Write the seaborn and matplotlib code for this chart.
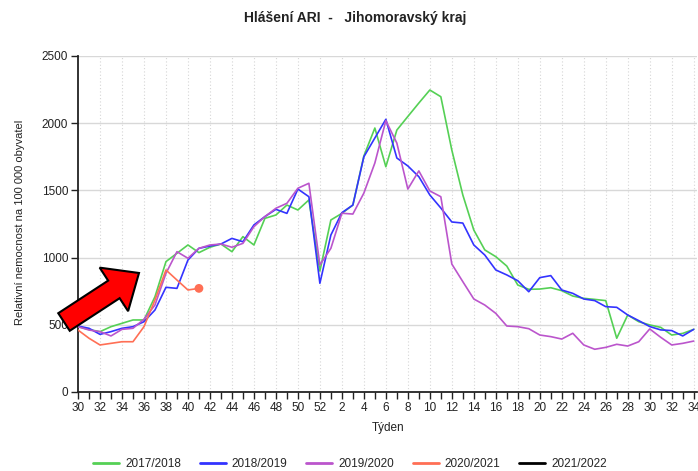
import numpy as np
import pandas as pd
import matplotlib
matplotlib.use("Agg")
import matplotlib.pyplot as plt
from matplotlib.patches import FancyArrow
from matplotlib.lines import Line2D
import seaborn as sns

sns.set_style("white")
plt.rcParams['font.family'] = ['Liberation Sans', 'DejaVu Sans']

weeks = list(range(30, 53)) + list(range(1, 35))

s2017 = [486, 465, 449, 486, 511, 536, 536, 709, 970, 1032, 1094, 1037, 1077, 1101, 1044,
         1156, 1094, 1292, 1317, 1391, 1354, 1429, 900, 1280, 1329, 1391, 1756, 1964, 1676,
         1949, 2050, 2150, 2247, 2197, 1800, 1466, 1205, 1057, 1007, 937, 796, 764, 766,
         776, 754, 714, 697, 689, 680, 400, 573, 523, 499, 481, 424, 436, 466]
s2018 = [491, 474, 429, 449, 474, 486, 523, 610, 779, 771, 982, 1069, 1086, 1101, 1143,
         1118, 1243, 1305, 1359, 1329, 1510, 1453, 809, 1168, 1334, 1391, 1750, 1890, 2029,
         1741, 1682, 1602, 1466, 1369, 1265, 1257, 1094, 1019, 908, 871, 828, 746, 851,
         866, 759, 734, 692, 680, 635, 630, 573, 531, 487, 462, 457, 417, 466]
s2019 = [486, 461, 449, 417, 466, 474, 541, 647, 883, 1044, 995, 1069, 1094, 1101, 1077,
         1106, 1230, 1305, 1367, 1404, 1516, 1553, 945, 1069, 1330, 1324, 1480, 1704, 2019,
         1852, 1510, 1645, 1496, 1453, 952, 821, 692, 647, 585, 491, 486, 471, 424,
         412, 394, 437, 350, 318, 332, 355, 342, 374, 469, 407, 350, 362, 379]
s2020 = [461, 400, 350, 362, 374, 374, 486, 685, 908, 833, 759, 771]
s2021 = []

seasons = ["2017/2018", "2018/2019", "2019/2020", "2020/2021", "2021/2022"]
colors = ["#55d055", "#3333ff", "#bb55cc", "#ff6f55", "#000000"]
series = [s2017, s2018, s2019, s2020, s2021]

rows = []
for name, vals in zip(seasons, series):
    for i, v in enumerate(vals):
        rows.append({"pos": i, "week": weeks[i], "season": name, "value": v})
df = pd.DataFrame(rows)
palette = dict(zip(seasons, colors))

fig = plt.figure(figsize=(6.98, 4.71), dpi=100)
ax = fig.add_axes([78/698, 1-392/471, (697-78)/698, (392-56)/471])

# grid
for y in range(500, 2501, 500):
    ax.axhline(y, color="#d8d8d8", lw=1.0, zorder=0)
for x in range(2, 57, 2):
    ax.axvline(x, color="#d6d6d6", lw=0.8, ls=(0, (1, 2)), zorder=0)

present = [s for s, v in zip(seasons, series) if len(v)]
sns.lineplot(data=df, x="pos", y="value", hue="season", hue_order=present,
             palette=palette, lw=1.2, ax=ax, legend=False, zorder=3)
last = df[df.season == "2020/2021"].tail(1)
sns.scatterplot(data=last, x="pos", y="value", color=palette["2020/2021"], s=40,
                edgecolor="none", ax=ax, legend=False, zorder=4)

ax.set_xlim(0, 56.3)
ax.set_ylim(0, 2500)
ax.set_xticks(range(len(weeks)))
ax.set_xticklabels([str(w) if i % 2 == 0 else "" for i, w in enumerate(weeks)])
ax.set_yticks(range(0, 2501, 500))
ax.tick_params(axis="both", direction="out", length=5, width=1, color="#222222",
               labelsize=8.5, labelcolor="#222222", bottom=True, left=True, pad=2)
for s in ["top", "right"]:
    ax.spines[s].set_visible(False)
for s in ["left", "bottom"]:
    ax.spines[s].set_color("#222222")
    ax.spines[s].set_linewidth(1.3)
ax.set_xlabel("")
ax.set_ylabel("")

fig.text(355/698, 1-18/471, "Hlášení ARI  -   Jihomoravský kraj", ha="center", va="center",
         fontsize=10, fontweight="bold", color="#222222")
fig.text(20/698, 1-222/471, "Relativní nemocnost na 100 000 obyvatel", rotation=90,
         ha="center", va="center", fontsize=8, color="#222222")
fig.text(388/698, 1-428/471, "Týden", ha="center", va="center", fontsize=8.5, color="#222222")

handles = [Line2D([0], [0], color=c, lw=2) for c in colors]
fig.legend(handles, seasons, loc="center", bbox_to_anchor=(350/698, 1-464/471), ncol=5,
           frameon=False, fontsize=8.5, handlelength=2.2, columnspacing=1.6, handletextpad=0.5)

arrow = FancyArrow(0.64, (471-322)/100, 0.75, 0.49, width=0.21, head_width=0.52,
                   head_length=0.30, length_includes_head=True, facecolor="#ff0000",
                   edgecolor="#000000", lw=1.5, transform=fig.dpi_scale_trans, zorder=10)
fig.patches.append(arrow)

fig.savefig("out.png", dpi=100)
